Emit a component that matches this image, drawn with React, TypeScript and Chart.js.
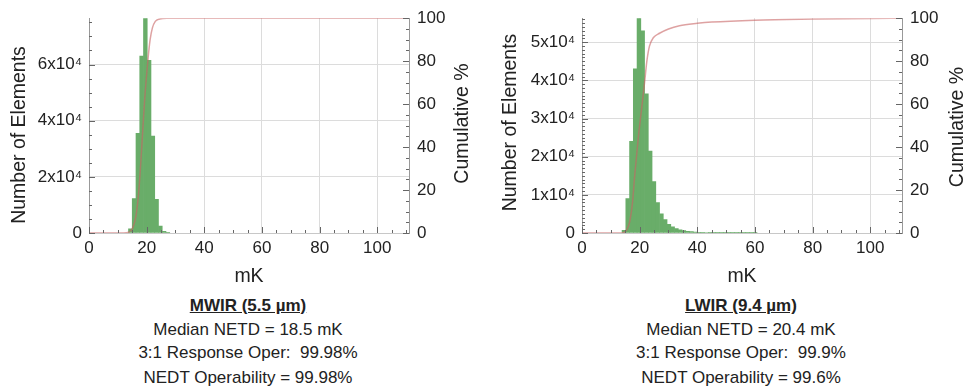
import React, { useEffect, useRef } from "react";
import { Chart, registerables } from "chart.js";

Chart.register(...registerables);

// ---------- data ----------
const mwirBinCenters = [14.35, 15.65, 16.95, 18.25, 19.55, 20.85, 22.15, 23.45, 24.75, 26.05, 27.35];
const mwirCounts = [1500, 12300, 35500, 63000, 98000, 61500, 34500, 12000, 2500, 600, 150];
const mwirCumX = [0, 12, 13.8, 15.2, 16.3, 17.3, 18.3, 19.3, 20.4, 21.2, 22.0, 23.0, 24.5, 27, 111];
const mwirCumPct = [0, 0, 0.4, 2.5, 8, 20, 40, 62, 80, 90, 95.5, 98.5, 99.6, 100, 100];
const mwirYTicks = [0, 20000, 40000, 60000];

const lwirBinCenters = [
  14.55, 15.85, 17.15, 18.45, 19.75, 21.05, 22.35, 23.65, 24.95, 26.25, 27.55, 28.85,
  30.15, 31.45, 32.75, 34.05, 35.35, 36.65, 37.95, 39.25, 40.55, 41.85, 43.15, 44.45,
  45.75, 47.05, 48.35, 49.65, 50.95, 52.25, 53.55, 54.85, 56.15, 57.45, 58.75, 60.05,
];
const lwirCounts = [
  700, 9000, 24000, 43000, 64000, 53000, 36500, 21500, 13500, 8000, 5000, 3500,
  2300, 1600, 1150, 850, 620, 460, 340, 260, 200, 160, 130, 110,
  95, 80, 70, 60, 52, 45, 40, 35, 30, 27, 24, 20,
];
const lwirCumX = [0, 13, 14.5, 15.5, 16.5, 17.5, 18.3, 19.5, 20.6, 21.7, 22.5, 23.4, 24.8, 26.9, 30, 33.8, 40, 45, 60, 80, 100, 111];
const lwirCumPct = [0, 0, 0.3, 1.5, 5, 14, 27, 44, 57, 70, 80, 87, 91, 93, 95, 96.5, 97.6, 98.2, 99.1, 99.6, 99.9, 100];
const lwirYTicks = [0, 10000, 20000, 30000, 40000, 50000];

const xTicks = [0, 20, 40, 60, 80, 100];
const pctTicks = [0, 20, 40, 60, 80, 100];

const xAxisTitle = "mK";
const yAxisTitle = "Number of Elements";
const y2AxisTitle = "Cumulative %";

const mwirCaption = ["MWIR (5.5 µm)", "Median NETD = 18.5 mK", "3:1 Response Oper:  99.98%", "NEDT Operability = 99.98%"];
const lwirCaption = ["LWIR (9.4 µm)", "Median NETD = 20.4 mK", "3:1 Response Oper:  99.9%", "NEDT Operability = 99.6%"];

// ---------- styling ----------
const FONT = "'Liberation Sans', Arial, Helvetica, sans-serif";
const TEXT = "#222";
const GRID = "#dcdcdc";

const axisDecor = {
  id: "axisDecor",
  afterDraw(chart: any, _args: any, opts: any) {
    const { ctx, chartArea: a } = chart;
    ctx.save();
    ctx.strokeStyle = "#666";
    ctx.lineWidth = 1;
    (opts.marks || []).forEach((m: any) => {
      const s = chart.scales[m.scale];
      for (let v = s.min; v <= s.max + 1e-9; v += m.step) {
        const r = v / m.major;
        const isMajor = Math.abs(r - Math.round(r)) < 1e-6;
        const len = isMajor ? 6 : 3;
        const p = Math.round(s.getPixelForValue(v)) + 0.5;
        ctx.beginPath();
        if (m.side === "left") {
          ctx.moveTo(a.left, p);
          ctx.lineTo(a.left + len, p);
        } else if (m.side === "right") {
          ctx.moveTo(a.right, p);
          ctx.lineTo(a.right - len, p);
        } else {
          ctx.moveTo(p, a.bottom);
          ctx.lineTo(p, a.bottom - len);
        }
        ctx.stroke();
      }
    });
    ctx.fillStyle = TEXT;
    ctx.font = `19.5px ${FONT}`;
    ctx.textAlign = "center";
    ctx.textBaseline = "middle";
    (opts.titles || []).forEach((t: any) => {
      ctx.save();
      ctx.translate(t.x, t.y);
      ctx.rotate(-Math.PI / 2);
      ctx.fillText(t.text, 0, 0);
      ctx.restore();
    });
    ctx.restore();
  },
};

type PanelProps = {
  bins: number[];
  counts: number[];
  cumX: number[];
  cumY: number[];
  yTicks: number[];
  yMax: number;
  yMinor: number;
  leftW: number;
  rightW: number;
  width: number;
  left: number;
  leftTitle: { x: number; y: number };
  rightTitle: { x: number; y: number };
};

function Panel(p: PanelProps) {
  const ref = useRef<HTMLCanvasElement>(null);
  useEffect(() => {
    if (!ref.current) return;
    const tickFont = { family: FONT, size: 17 };
    const yMajor = p.yTicks[1] - p.yTicks[0];
    const chart = new Chart(ref.current, {
      type: "bar",
      data: {
        datasets: [
          {
            type: "line",
            data: p.cumX.map((x, i) => ({ x, y: p.cumY[i] })),
            yAxisID: "y2",
            borderColor: "rgba(200,100,100,0.6)",
            borderWidth: 1.5,
            pointRadius: 0,
            cubicInterpolationMode: "monotone",
            order: 0,
          } as any,
          {
            type: "bar",
            data: p.bins.map((x, i) => ({ x, y: p.counts[i] })),
            yAxisID: "y",
            backgroundColor: "#69ad69",
            borderWidth: 0,
            barPercentage: 1,
            categoryPercentage: 1,
            order: 1,
          } as any,
        ],
      },
      options: {
        responsive: false,
        animation: false,
        layout: { padding: { top: 15, left: 0, right: 0, bottom: 0 } },
        plugins: {
          legend: { display: false },
          tooltip: { enabled: false },
          axisDecor: {
            marks: [
              { scale: "x", step: 5, major: 20, side: "bottom" },
              { scale: "y", step: p.yMinor, major: yMajor, side: "left" },
              { scale: "y2", step: 5, major: 20, side: "right" },
            ],
            titles: [
              { text: yAxisTitle, x: p.leftTitle.x, y: p.leftTitle.y },
              { text: y2AxisTitle, x: p.rightTitle.x, y: p.rightTitle.y },
            ],
          },
        } as any,
        scales: {
          x: {
            type: "linear",
            min: 0,
            max: 111,
            offset: false,
            afterBuildTicks: (s: any) => {
              s.ticks = xTicks.map((value) => ({ value }));
            },
            ticks: { padding: 5, font: tickFont, color: TEXT, maxRotation: 0, autoSkip: false },
            grid: { color: (c: any) => (c.tick && c.tick.value === 0 ? "transparent" : GRID), drawTicks: false, offset: false },
            border: { color: "#c8c8c8" },
            title: { display: true, text: xAxisTitle, font: { family: FONT, size: 19.5 }, color: TEXT, padding: { top: 0, bottom: 2 } },
            afterFit: (s: any) => {
              s.height = 57;
            },
          } as any,
          y: {
            type: "linear",
            position: "left",
            min: 0,
            max: p.yMax,
            afterBuildTicks: (s: any) => {
              s.ticks = p.yTicks.map((value) => ({ value }));
            },
            ticks: {
              padding: 7,
              font: tickFont,
              color: TEXT,
              autoSkip: false,
              callback: (v: any) => (v === 0 ? "0" : `${v / 10000}x10⁴`),
            },
            grid: { color: (c: any) => (c.tick && c.tick.value === 0 ? "transparent" : GRID), drawTicks: false },
            border: { color: "#999" },
            afterFit: (s: any) => {
              s.width = p.leftW;
            },
          } as any,
          y2: {
            type: "linear",
            position: "right",
            min: 0,
            max: 100,
            afterBuildTicks: (s: any) => {
              s.ticks = pctTicks.map((value) => ({ value }));
            },
            ticks: { padding: 8, font: tickFont, color: TEXT, autoSkip: false },
            grid: { drawOnChartArea: false, drawTicks: false },
            border: { color: "#999" },
            afterFit: (s: any) => {
              s.width = p.rightW;
            },
          } as any,
        },
      },
      plugins: [axisDecor],
    } as any);
    return () => chart.destroy();
  }, []);
  return (
    <canvas
      ref={ref}
      width={p.width}
      height={290}
      style={{ position: "absolute", left: p.left, top: 0, width: p.width, height: 290 }}
    />
  );
}

function Caption({ lines, center }: { lines: string[]; center: number }) {
  const tops = [296, 320, 343, 368];
  return (
    <>
      {lines.map((t, i) => (
        <div
          key={i}
          style={{
            position: "absolute",
            left: center - 160,
            width: 320,
            top: tops[i],
            height: 20,
            lineHeight: "20px",
            fontSize: 17,
            textAlign: "center",
            whiteSpace: "pre",
            fontWeight: i === 0 ? "bold" : "normal",
            textDecoration: i === 0 ? "underline" : "none",
          }}
        >
          {t}
        </div>
      ))}
    </>
  );
}

export default function App() {
  useEffect(() => {
    document.body.style.margin = "0";
  }, []);
  return (
    <div style={{ position: "relative", width: 969, height: 387, background: "#fff", fontFamily: FONT, color: TEXT, overflow: "hidden" }}>
      <Panel
        bins={mwirBinCenters}
        counts={mwirCounts}
        cumX={mwirCumX}
        cumY={mwirCumPct}
        yTicks={mwirYTicks}
        yMax={76500}
        yMinor={5000}
        leftW={89}
        rightW={75}
        width={484}
        left={0}
        leftTitle={{ x: 19.5, y: 135 }}
        rightTitle={{ x: 463, y: 123.5 }}
      />
      <Panel
        bins={lwirBinCenters}
        counts={lwirCounts}
        cumX={lwirCumX}
        cumY={lwirCumPct}
        yTicks={lwirYTicks}
        yMax={56300}
        yMinor={1000}
        leftW={98}
        rightW={67}
        width={485}
        left={484}
        leftTitle={{ x: 26.5, y: 122.5 }}
        rightTitle={{ x: 473.5, y: 127 }}
      />
      <Caption lines={mwirCaption} center={248} />
      <Caption lines={lwirCaption} center={741} />
    </div>
  );
}
